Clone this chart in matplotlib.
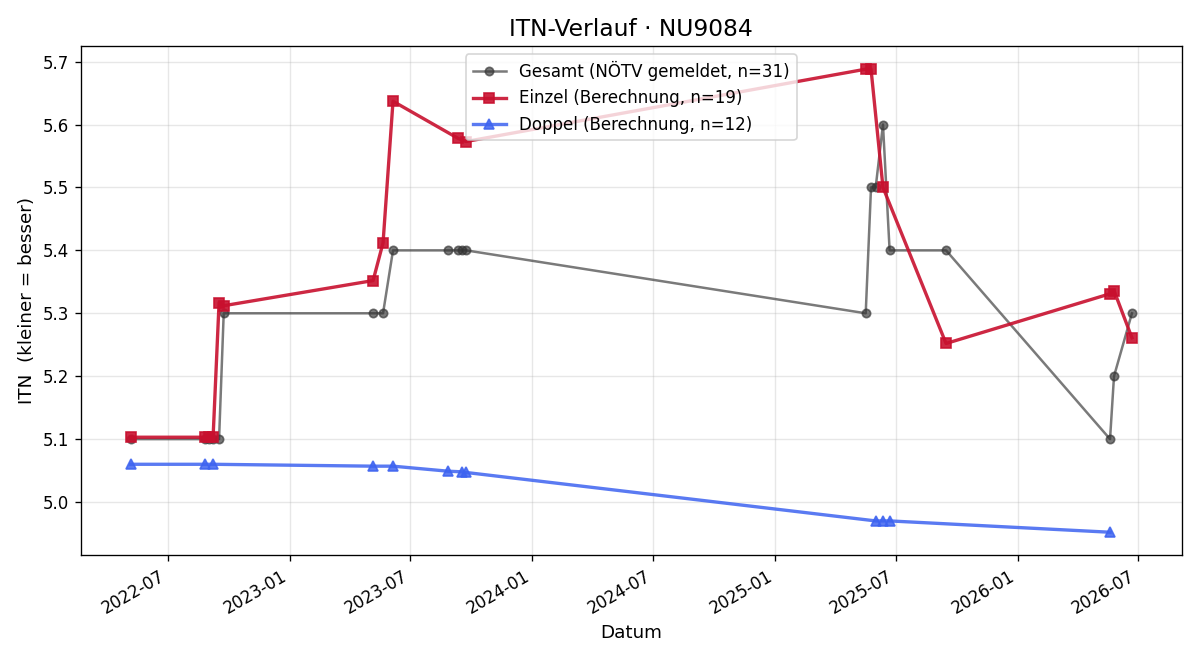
import matplotlib
matplotlib.use("Agg")
from matplotlib import pyplot as plt
import matplotlib.dates as mdates
import pandas as pd

# Gesamt (NÖTV gemeldet)
gesamt_dates = ["2022-05-06", "2022-08-26", "2022-09-01", "2022-09-07", "2022-09-16",
                "2022-09-23", "2023-05-06", "2023-05-21", "2023-06-05", "2023-08-27",
                "2023-09-11", "2023-09-17", "2023-09-23", "2025-05-17", "2025-05-25",
                "2025-06-01", "2025-06-12", "2025-06-22", "2025-09-15", "2026-05-20",
                "2026-05-26", "2026-06-22"]
gesamt_itn = [5.1, 5.1, 5.1, 5.1, 5.1,
              5.3, 5.3, 5.3, 5.4, 5.4,
              5.4, 5.4, 5.4, 5.3, 5.5,
              5.5, 5.6, 5.4, 5.4, 5.1,
              5.2, 5.3]

# Einzel (Berechnung)
einzel_dates = ["2022-05-06", "2022-08-26", "2022-09-01", "2022-09-07", "2022-09-16",
                "2022-09-23", "2023-05-06", "2023-05-21", "2023-06-05", "2023-09-11",
                "2023-09-23", "2025-05-17", "2025-05-25", "2025-06-12", "2025-09-15",
                "2026-05-20", "2026-05-26", "2026-06-22"]
einzel_itn = [5.103, 5.103, 5.103, 5.103, 5.317,
              5.312, 5.352, 5.412, 5.637, 5.578,
              5.573, 5.688, 5.688, 5.500, 5.252,
              5.331, 5.336, 5.261]

# Doppel (Berechnung)
doppel_dates = ["2022-05-06", "2022-08-26", "2022-09-07", "2023-05-06", "2023-06-05",
                "2023-08-27", "2023-09-17", "2023-09-23", "2025-06-01", "2025-06-12",
                "2025-06-22", "2026-05-20"]
doppel_itn = [5.060, 5.060, 5.060, 5.057, 5.057,
              5.049, 5.048, 5.047, 4.970, 4.970,
              4.970, 4.952]

fig, ax = plt.subplots(figsize=(10, 5.5), dpi=120)

ax.plot(pd.to_datetime(gesamt_dates), gesamt_itn, marker="o", markersize=5,
        color="#333333", alpha=0.65, linewidth=1.5,
        label="Gesamt (NÖTV gemeldet, n=31)")
ax.plot(pd.to_datetime(einzel_dates), einzel_itn, marker="s", markersize=6,
        color="#C8102E", alpha=0.9, linewidth=2,
        label="Einzel (Berechnung, n=19)")
ax.plot(pd.to_datetime(doppel_dates), doppel_itn, marker="^", markersize=6,
        color="#3D63F0", alpha=0.85, linewidth=2,
        label="Doppel (Berechnung, n=12)")

ax.xaxis.set_major_locator(mdates.MonthLocator(bymonth=[1, 7]))
ax.xaxis.set_major_formatter(mdates.DateFormatter("%Y-%m"))
fig.autofmt_xdate()

ax.set_title("ITN-Verlauf · NU9084", fontsize=14)
ax.set_xlabel("Datum", fontsize=11)
ax.set_ylabel("ITN  (kleiner = besser)", fontsize=11)
ax.grid(alpha=0.3)
ax.legend(loc="upper center")

plt.tight_layout()
plt.savefig("out.png")
